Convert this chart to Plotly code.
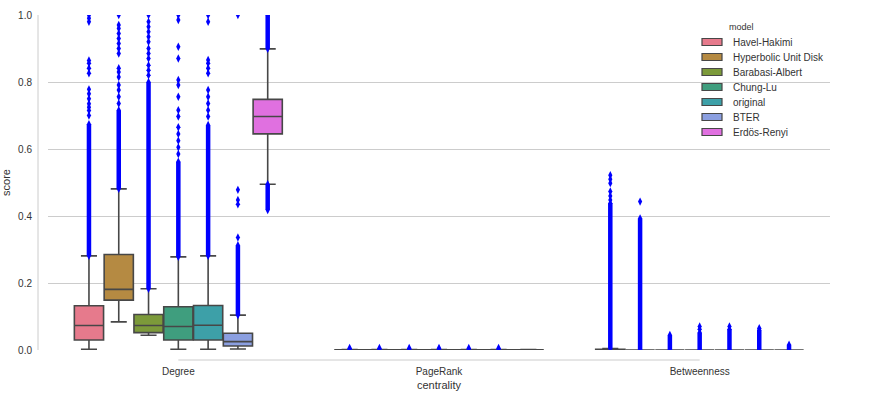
import plotly.graph_objects as go

# ---------------- data ----------------
categories = ["Degree", "PageRank", "Betweenness"]
models = ["Havel-Hakimi", "Hyperbolic Unit Disk", "Barabasi-Albert", "Chung-Lu",
          "original", "BTER", "Erdös-Renyi"]
colors = ["#e67a8c", "#b58a42", "#7c9a3a", "#3f9e7e", "#3da0a8", "#8b9fe0", "#e070e0"]

# box statistics per model: lists over categories [Degree, PageRank, Betweenness]
lower_fence = {
    "Havel-Hakimi":         [0.002, 0.0,    0.0],
    "Hyperbolic Unit Disk": [0.084, 0.0,    0.0],
    "Barabasi-Albert":      [0.044, 0.0,    0.0],
    "Chung-Lu":             [0.002, 0.0,    0.0],
    "original":             [0.002, 0.0,    0.0],
    "BTER":                 [0.003, 0.0,    0.0],
    "Erdös-Renyi":          [0.495, 0.0,    0.0],
}
q1 = {
    "Havel-Hakimi":         [0.030, 0.0003, 0.0],
    "Hyperbolic Unit Disk": [0.149, 0.0003, 0.0],
    "Barabasi-Albert":      [0.052, 0.0003, 0.0],
    "Chung-Lu":             [0.030, 0.0003, 0.0],
    "original":             [0.030, 0.0003, 0.0],
    "BTER":                 [0.012, 0.0003, 0.0],
    "Erdös-Renyi":          [0.645, 0.0003, 0.0],
}
median = {
    "Havel-Hakimi":         [0.073, 0.0005, 0.0001],
    "Hyperbolic Unit Disk": [0.181, 0.0005, 0.0],
    "Barabasi-Albert":      [0.073, 0.0005, 0.0],
    "Chung-Lu":             [0.070, 0.0005, 0.0],
    "original":             [0.074, 0.0005, 0.0],
    "BTER":                 [0.025, 0.0005, 0.0],
    "Erdös-Renyi":          [0.697, 0.0005, 0.0],
}
q3 = {
    "Havel-Hakimi":         [0.132, 0.0008, 0.002],
    "Hyperbolic Unit Disk": [0.285, 0.0008, 0.0],
    "Barabasi-Albert":      [0.106, 0.0008, 0.0],
    "Chung-Lu":             [0.129, 0.0008, 0.0],
    "original":             [0.133, 0.0008, 0.0],
    "BTER":                 [0.050, 0.0008, 0.0],
    "Erdös-Renyi":          [0.748, 0.0008, 0.0],
}
upper_fence = {
    "Havel-Hakimi":         [0.281, 0.0015, 0.004],
    "Hyperbolic Unit Disk": [0.481, 0.0015, 0.0],
    "Barabasi-Albert":      [0.183, 0.0015, 0.0],
    "Chung-Lu":             [0.278, 0.0015, 0.0],
    "original":             [0.281, 0.0015, 0.0],
    "BTER":                 [0.104, 0.0015, 0.0],
    "Erdös-Renyi":          [0.899, 0.0015, 0.0],
}

# dense runs of outliers (low, high), per model, per category
dense_outliers = {
    "Havel-Hakimi":         [[(0.281, 0.674)], [(0.0015, 0.006)], [(0.004, 0.438)]],
    "Hyperbolic Unit Disk": [[(0.481, 0.716)], [(0.0015, 0.006)], [(0.0, 0.393)]],
    "Barabasi-Albert":      [[(0.183, 0.800)], [(0.0015, 0.006)], [(0.0, 0.045)]],
    "Chung-Lu":             [[(0.278, 0.562)], [(0.0015, 0.006)], [(0.0, 0.052)]],
    "original":             [[(0.281, 0.672)], [(0.0015, 0.006)], [(0.0, 0.062)]],
    "BTER":                 [[(0.104, 0.313)], [(0.0015, 0.006)], [(0.0, 0.060)]],
    "Erdös-Renyi":          [[(0.418, 0.495), (0.899, 1.0)], [], [(0.0, 0.016)]],
}
# isolated outliers, per model, per category
sparse_outliers = {
    "Havel-Hakimi": [[0.70, 0.715, 0.725, 0.735, 0.75, 0.765, 0.778, 0.826, 0.841,
                      0.856, 0.864, 0.98, 0.99, 1.0], [], [0.448, 0.46, 0.473, 0.498, 0.51, 0.522]],
    "Hyperbolic Unit Disk": [[0.736, 0.756, 0.776, 0.791, 0.815, 0.83, 0.841, 0.885, 0.90,
                              0.915, 0.93, 0.945, 0.96, 0.97, 1.0], [], [0.443]],
    "Barabasi-Albert": [[0.82, 0.835, 0.85, 0.87, 0.885, 0.90, 0.92, 0.935, 0.95, 0.965,
                         0.98, 1.0], [], []],
    "Chung-Lu": [[0.585, 0.605, 0.625, 0.645, 0.665, 0.697, 0.716, 0.756, 0.791, 0.806,
                  0.87, 0.905, 0.985, 1.0], [], [0.062, 0.07]],
    "original": [[0.697, 0.716, 0.736, 0.756, 0.776, 0.826, 0.841, 0.856, 0.866, 0.98,
                  1.0], [], [0.07]],
    "BTER": [[0.336, 0.435, 0.448, 0.478, 1.0], [], [0.065]],
    "Erdös-Renyi": [[], [], []],
}

y_ticks = [0.0, 0.2, 0.4, 0.6, 0.8, 1.0]

# ---------------- figure ----------------
n_hue = len(models)
group_width = 0.8
box_w = group_width / n_hue
FLIER = "#0000ff"
EDGE = "#474747"
SPINE = "#cccccc"
FONT = "Liberation Sans, Arial, sans-serif"
TXT = "#333333"

fig = go.Figure()

def pos(ci, mi):
    return ci + (mi - (n_hue - 1) / 2) * box_w

for mi, m in enumerate(models):
    xs = [pos(ci, mi) for ci in range(len(categories))]
    fig.add_trace(go.Box(
        name=m, x=xs,
        lowerfence=lower_fence[m], q1=q1[m], median=median[m],
        q3=q3[m], upperfence=upper_fence[m],
        width=box_w * 0.98, fillcolor=colors[mi],
        line=dict(color=EDGE, width=1.6), whiskerwidth=0.55,
        boxpoints=False, showlegend=False,
    ))

for mi, m in enumerate(models):
    for ci in range(len(categories)):
        x0 = pos(ci, mi)
        for lo, hi in dense_outliers[m][ci]:
            fig.add_trace(go.Scatter(
                x=[x0, x0], y=[lo, hi], mode="lines+markers",
                line=dict(color=FLIER, width=4.5),
                marker=dict(symbol="diamond-tall", size=6, color=FLIER),
                showlegend=False, hoverinfo="skip",
            ))
        pts = sparse_outliers[m][ci]
        if pts:
            fig.add_trace(go.Scatter(
                x=[x0] * len(pts), y=pts, mode="markers",
                marker=dict(symbol="diamond-tall", size=6, color=FLIER),
                showlegend=False, hoverinfo="skip",
            ))

# ---------------- layout (pixel geometry) ----------------
W, H = 881, 394
mr, mt = 51, 15
PW = W - mr          # paper spans x 0..830
PH = H - mt          # paper spans y 15..394
plot_left, plot_bottom = 48, 350
yspine_x, xspine_y = 38, 360

def px_x(p):
    return p / PW

def px_y(p):
    return (H - p) / PH

shapes = [
    # trimmed, offset x spine (from first to last category)
    dict(type="line", xref="x", yref="paper", x0=0, x1=len(categories) - 1,
         y0=px_y(xspine_y), y1=px_y(xspine_y), line=dict(color=SPINE, width=1)),
    # trimmed, offset y spine
    dict(type="line", xref="paper", yref="y", x0=px_x(yspine_x), x1=px_x(yspine_x),
         y0=y_ticks[0], y1=y_ticks[-1], line=dict(color=SPINE, width=1)),
]
annotations = []

# legend drawn as shapes + text
leg_title_x, leg_title_y = 741, 27
leg_sw_x0, leg_sw_x1, leg_txt_x = 702, 722, 731
leg_y0, leg_dy, sw_h = 42, 15, 7
annotations.append(dict(text="model", xref="paper", yref="paper",
                        x=px_x(leg_title_x), y=px_y(leg_title_y),
                        xanchor="center", yanchor="middle", showarrow=False,
                        font=dict(size=9, color=TXT)))
for mi, m in enumerate(models):
    yc = leg_y0 + mi * leg_dy
    shapes.append(dict(type="rect", xref="paper", yref="paper",
                       x0=px_x(leg_sw_x0), x1=px_x(leg_sw_x1),
                       y0=px_y(yc + sw_h / 2), y1=px_y(yc - sw_h / 2),
                       fillcolor=colors[mi], line=dict(color=EDGE, width=1.2)))
    annotations.append(dict(text=m, xref="paper", yref="paper",
                            x=px_x(leg_txt_x), y=px_y(yc),
                            xanchor="left", yanchor="middle", showarrow=False,
                            font=dict(size=10, color=TXT)))

fig.update_layout(
    width=W, height=H,
    margin=dict(l=0, r=mr, t=mt, b=0, pad=0),
    paper_bgcolor="white", plot_bgcolor="white",
    font=dict(family=FONT, size=10, color=TXT),
    showlegend=False,
    xaxis=dict(
        domain=[px_x(plot_left), 1], range=[-0.5, len(categories) - 0.5],
        tickvals=list(range(len(categories))), ticktext=categories,
        showgrid=False, zeroline=False, showline=False, ticks="",
        anchor="free", position=px_y(xspine_y + 4), automargin=False,
        title=dict(text="centrality", standoff=5, font=dict(size=11)),
    ),
    yaxis=dict(
        domain=[px_y(plot_bottom), 1], range=[y_ticks[0], y_ticks[-1]],
        tickvals=y_ticks, tickformat=".1f",
        showgrid=True, gridcolor=SPINE, gridwidth=1,
        zeroline=False, showline=False,
        ticks="", anchor="free", position=px_x(yspine_x - 6), automargin=False,
        title=dict(text="score", standoff=6, font=dict(size=11)),
    ),
    shapes=shapes,
    annotations=annotations,
)

fig.write_html("out.html")
